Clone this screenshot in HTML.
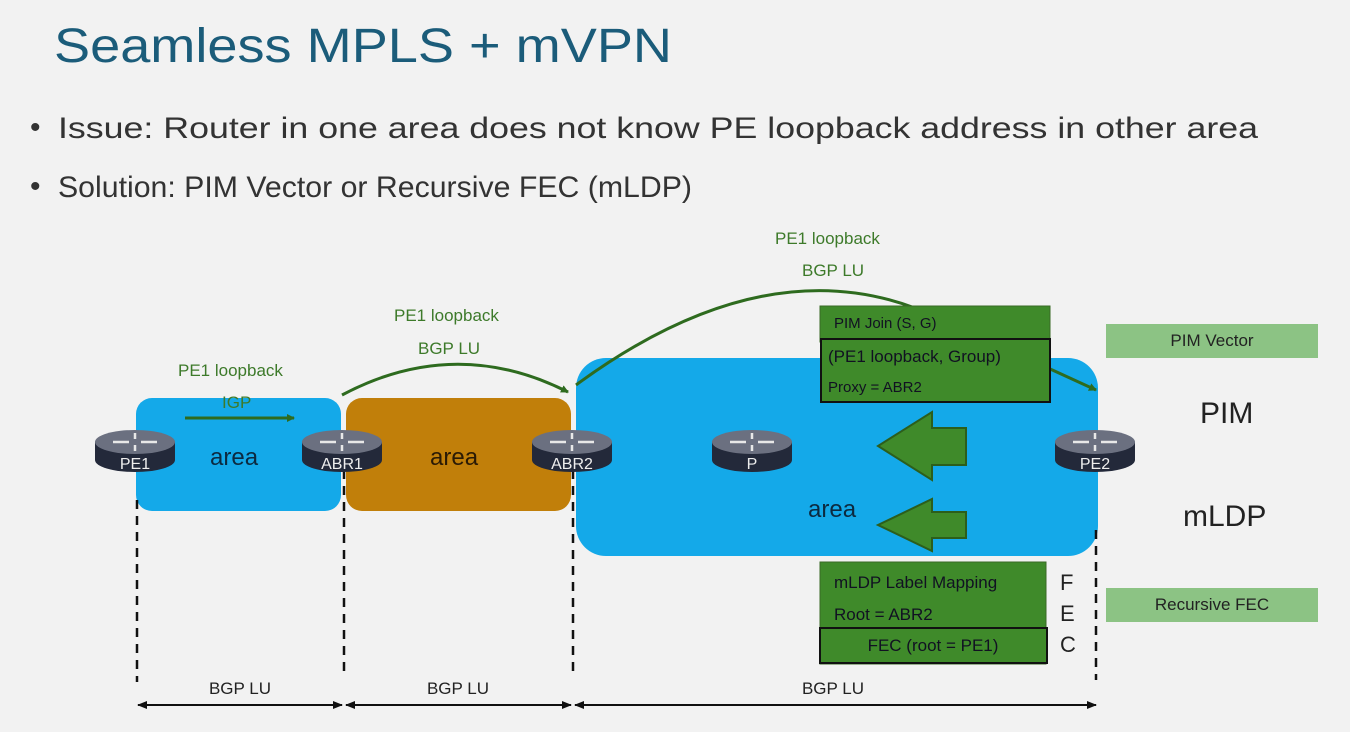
<!DOCTYPE html>
<html><head><style>body{margin:0;background:#f2f2f2;}svg{display:block}</style></head><body>
<svg width="1350" height="732" viewBox="0 0 1350 732" xmlns="http://www.w3.org/2000/svg" font-family="Liberation Sans, sans-serif">
<defs>
<marker id="ag" markerWidth="8" markerHeight="8" refX="7" refY="4" orient="auto" markerUnits="userSpaceOnUse"><path d="M0,0 L8,4 L0,8 z" fill="#2e6b1f"/></marker>
<marker id="ak" markerWidth="10" markerHeight="10" refX="9" refY="5" orient="auto-start-reverse" markerUnits="userSpaceOnUse"><path d="M0,1 L10,5 L0,9 z" fill="#111"/></marker>
<g id="rt">
<path d="M-40,0 L-40,18 A40,12 0 0 0 40,18 L40,0 Z" fill="#23293a"/>
<ellipse cx="0" cy="0" rx="40" ry="12" fill="#6b7080"/>
<path d="M-22,0 H-6 M22,0 H6 M0,-9 V-3 M0,9 V3" stroke="#e8e8e8" stroke-width="2.5"/>
</g>
</defs>
<rect width="1350" height="732" fill="#f2f2f2"/>
<text x="54" y="62" font-size="48" fill="#1b5c7a" textLength="618" lengthAdjust="spacingAndGlyphs">Seamless MPLS + mVPN</text>
<text x="30" y="137" font-size="30" fill="#333">•</text>
<text x="58" y="138" font-size="30" fill="#333" textLength="1200" lengthAdjust="spacingAndGlyphs">Issue: Router in one area does not know PE loopback address in other area</text>
<text x="30" y="196" font-size="30" fill="#333">•</text>
<text x="58" y="197" font-size="30" fill="#333" textLength="634" lengthAdjust="spacingAndGlyphs">Solution: PIM Vector or Recursive FEC (mLDP)</text>

<rect x="136" y="398" width="205" height="113" rx="16" fill="#14a9e9"/>
<rect x="346" y="398" width="225" height="113" rx="16" fill="#c17f0a"/>
<rect x="576" y="358" width="522" height="198" rx="30" fill="#14a9e9"/>

<text x="210" y="465" font-size="24" fill="#0c2a40">area</text>
<text x="430" y="465" font-size="24" fill="#2a1a05">area</text>
<text x="808" y="517" font-size="24" fill="#0c2a40">area</text>

<text x="178" y="376" font-size="17" fill="#3d7a2a">PE1 loopback</text>
<text x="222" y="408" font-size="17" fill="#3d7a2a">IGP</text>
<line x1="185" y1="418" x2="294" y2="418" stroke="#2e6b1f" stroke-width="3" marker-end="url(#ag)"/>
<text x="394" y="321" font-size="17" fill="#3d7a2a">PE1 loopback</text>
<text x="418" y="354" font-size="17" fill="#3d7a2a">BGP LU</text>
<path d="M342,395 Q455,335 568,392" fill="none" stroke="#2e6b1f" stroke-width="3" marker-end="url(#ag)"/>
<text x="775" y="244" font-size="17" fill="#3d7a2a">PE1 loopback</text>
<text x="802" y="276" font-size="17" fill="#3d7a2a">BGP LU</text>
<path d="M576,385 Q760,250 915,308" fill="none" stroke="#2e6b1f" stroke-width="3"/>
<line x1="1048" y1="368" x2="1096" y2="390" stroke="#2e6b1f" stroke-width="3" marker-end="url(#ag)"/>

<rect x="820" y="306" width="230" height="36" fill="#3f8a2a" stroke="#3a6b25"/>
<text x="834" y="328" font-size="15" fill="#112">PIM Join (S, G)</text>
<rect x="821" y="339" width="229" height="63" fill="#3f8a2a" stroke="#111" stroke-width="2"/>
<text x="828" y="362" font-size="17" fill="#112">(PE1 loopback, Group)</text>
<text x="828" y="392" font-size="15" fill="#112">Proxy = ABR2</text>

<rect x="1106" y="324" width="212" height="34" fill="#8cc384"/>
<text x="1212" y="346" font-size="17" fill="#222" text-anchor="middle">PIM Vector</text>
<text x="1200" y="423" font-size="30" fill="#222">PIM</text>
<text x="1183" y="526" font-size="30" fill="#222">mLDP</text>
<rect x="1106" y="588" width="212" height="34" fill="#8cc384"/>
<text x="1212" y="610" font-size="17" fill="#222" text-anchor="middle">Recursive FEC</text>

<path d="M966,428 L966,465 L932,465 L932,480 L878,446 L932,412 L932,428 Z" fill="#3f8a2a" stroke="#2c5e1c" stroke-width="2"/>
<path d="M966,512 L966,538 L932,538 L932,551 L878,525 L932,499 L932,512 Z" fill="#3f8a2a" stroke="#2c5e1c" stroke-width="2"/>

<rect x="820" y="562" width="226" height="102" fill="#3f8a2a" stroke="#3a6b25"/>
<text x="834" y="588" font-size="17" fill="#112">mLDP Label Mapping</text>
<text x="834" y="620" font-size="17" fill="#112">Root = ABR2</text>
<rect x="820" y="628" width="227" height="35" fill="#3f8a2a" stroke="#111" stroke-width="2"/>
<text x="933" y="651" font-size="17" fill="#112" text-anchor="middle">FEC (root = PE1)</text>
<text x="1060" y="590" font-size="22" fill="#222">F</text>
<text x="1060" y="621" font-size="22" fill="#222">E</text>
<text x="1060" y="652" font-size="22" fill="#222">C</text>

<g stroke="#111" stroke-width="2.5" stroke-dasharray="9,7">
<line x1="137" y1="500" x2="137" y2="682"/>
<line x1="344" y1="470" x2="344" y2="678"/>
<line x1="573" y1="470" x2="573" y2="676"/>
<line x1="1096" y1="530" x2="1096" y2="680"/>
</g>
<g stroke="#111" stroke-width="2">
<line x1="138" y1="705" x2="342" y2="705" marker-start="url(#ak)" marker-end="url(#ak)"/>
<line x1="346" y1="705" x2="571" y2="705" marker-start="url(#ak)" marker-end="url(#ak)"/>
<line x1="575" y1="705" x2="1096" y2="705" marker-start="url(#ak)" marker-end="url(#ak)"/>
</g>
<text x="240" y="694" font-size="17" fill="#222" text-anchor="middle">BGP LU</text>
<text x="458" y="694" font-size="17" fill="#222" text-anchor="middle">BGP LU</text>
<text x="833" y="694" font-size="17" fill="#222" text-anchor="middle">BGP LU</text>

<use href="#rt" x="135" y="442"/><text x="135" y="469" font-size="16" fill="#eee" text-anchor="middle">PE1</text>
<use href="#rt" x="342" y="442"/><text x="342" y="469" font-size="16" fill="#eee" text-anchor="middle">ABR1</text>
<use href="#rt" x="572" y="442"/><text x="572" y="469" font-size="16" fill="#eee" text-anchor="middle">ABR2</text>
<use href="#rt" x="752" y="442"/><text x="752" y="469" font-size="16" fill="#eee" text-anchor="middle">P</text>
<use href="#rt" x="1095" y="442"/><text x="1095" y="469" font-size="16" fill="#eee" text-anchor="middle">PE2</text>
</svg>
</body></html>
